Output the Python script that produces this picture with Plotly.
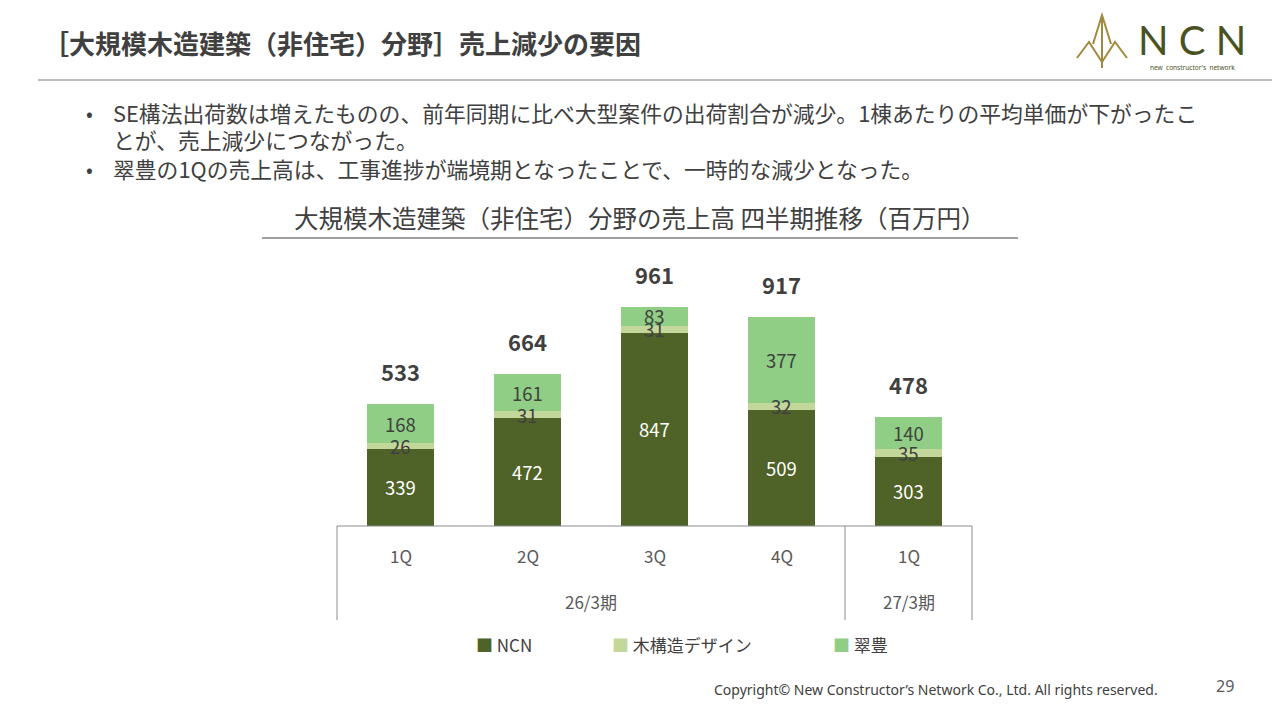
import plotly.graph_objects as go

# data (百万円)
quarters = ["1Q", "2Q", "3Q", "4Q", "1Q"]
periods = ["26/3期", "27/3期"]
period_span = [4, 1]
ncn = [339, 472, 847, 509, 303]
mokuzo = [26, 31, 31, 32, 35]
suiho = [168, 161, 83, 377, 140]
totals = [533, 664, 961, 917, 478]
series_names = ["NCN", "木構造デザイン", "翠豊"]
colors = ["#4f6228", "#c4d79b", "#8fce84"]

FONT = "Noto Sans CJK JP"
TXT = "#404040"
W, H = 1280, 720
OFF = 8  # default body margin of the html page
# plot area in page pixels
L, R, T, B = 337, 972, 275, 526
YMAX = 1100


def px(x):
    return (x - L) / (R - L)


def py(y):
    return (B - y) / (B - T)


def note(x, y, text, size, color=TXT, family=FONT, xanchor="center", **kw):
    return dict(x=px(x), y=py(y), xref="paper", yref="paper", text=text, showarrow=False,
                xanchor=xanchor, yanchor="middle", font=dict(size=size, color=color, family=family), **kw)


xs = list(range(len(quarters)))

fig = go.Figure()
for name, vals, col in zip(series_names, [ncn, mokuzo, suiho], colors):
    fig.add_trace(go.Bar(x=xs, y=vals, name=name, marker=dict(color=col, line_width=0),
                         width=0.52, showlegend=False, hoverinfo="y+name"))

ann = []
# segment labels
for i in xs:
    base = 0
    for vals, fc in [(ncn, "white"), (mokuzo, TXT), (suiho, TXT)]:
        ann.append(dict(x=i, y=base + vals[i] / 2, xref="x", yref="y", text=str(vals[i]),
                        showarrow=False, yanchor="middle",
                        font=dict(size=18.5, color=fc, family=FONT)))
        base += vals[i]
    ann.append(dict(x=i, y=base, xref="x", yref="y", text="<b>%d</b>" % totals[i],
                    showarrow=False, yanchor="bottom", yshift=15,
                    font=dict(size=22, color=TXT, family=FONT)))

# category axis labels
for i, q in enumerate(quarters):
    ann.append(dict(x=i, y=py(555), xref="x", yref="paper", text=q, showarrow=False, yanchor="middle",
                    font=dict(size=17, color="#595959", family=FONT)))
start = 0
for p, n in zip(periods, period_span):
    ann.append(dict(x=start + (n - 1) / 2, y=py(601), xref="x", yref="paper", text=p,
                    showarrow=False, yanchor="middle", font=dict(size=17, color="#595959", family=FONT)))
    start += n

# legend
for xpos, name, col in [(474, "NCN", colors[0]), (610, "木構造デザイン", colors[1]), (831, "翠豊", colors[2])]:
    ann.append(note(xpos, 644, '<span style="color:%s">■</span> %s' % (col, name), 17, xanchor="left"))

# chart title
ann.append(note(640, 217, "大規模木造建築（非住宅）分野の売上高 四半期推移（百万円）", 24.5))

# slide header and bullets
ann.append(note(41, 43, "<b>［大規模木造建築（非住宅）分野］売上減少の要因</b>", 26, xanchor="left"))
bullets = [
    (113, True, "SE構法出荷数は増えたものの、前年同期に比べ大型案件の出荷割合が減少。1棟あたりの平均単価が下がったこ"),
    (139, False, "とが、売上減少につながった。"),
    (168, True, "翠豊の1Qの売上高は、工事進捗が端境期となったことで、一時的な減少となった。"),
]
for y, dot, t in bullets:
    if dot:
        ann.append(note(84, y, "•", 20, xanchor="left"))
    ann.append(note(111, y, t, 21.8, xanchor="left"))

# logo text
ann.append(note(1192, 40, "N C N", 40, color="#4b5222", family="Lato"))
ann.append(note(1192, 67, "new  constructor's  network", 6.5, color="#4b5222", family="Noto Sans"))

# footer
ann.append(note(1160, 689, "Copyright© New Constructor’s Network Co., Ltd. All rights reserved.", 14,
                family="Noto Sans", xanchor="right"))
ann.append(note(1225, 686, "29", 16, color="#595959", family="Noto Sans"))

line_gray = dict(color="#8c8c8c", width=1)
gold = dict(color="#a08a3c", width=2)
shapes = [
    dict(type="line", xref="paper", yref="paper", x0=0, x1=1, y0=0, y1=0, line=line_gray),
    dict(type="line", xref="paper", yref="paper", x0=0, x1=0, y0=0, y1=py(620), line=line_gray),
    dict(type="line", xref="x", yref="paper", x0=3.5, x1=3.5, y0=0, y1=py(620), line=line_gray),
    dict(type="line", xref="paper", yref="paper", x0=1, x1=1, y0=0, y1=py(620), line=line_gray),
    # title underline
    dict(type="line", xref="paper", yref="paper", x0=px(262), x1=px(1018), y0=py(238), y1=py(238),
         line=dict(color="#404040", width=1.2)),
    # header rule
    dict(type="line", xref="paper", yref="paper", x0=px(38), x1=px(1272), y0=py(80), y1=py(80),
         line=dict(color="#a6a6a6", width=1.5)),
    # logo mark (simplified)
    dict(type="path", xref="paper", yref="paper",
         path="M %f %f L %f %f L %f %f L %f %f L %f %f" % (
             px(1077), py(58), px(1089), py(42), px(1102), py(62), px(1115), py(42), px(1127), py(58)),
         line=gold),
    dict(type="path", xref="paper", yref="paper",
         path="M %f %f L %f %f L %f %f M %f %f L %f %f" % (
             px(1093), py(44), px(1102), py(15), px(1111), py(44), px(1102), py(15), px(1102), py(68)),
         line=gold),
]

fig.update_layout(
    barmode="stack",
    width=W - OFF, height=H - OFF,
    margin=dict(l=L - OFF, r=W - R, t=T - OFF, b=H - B),
    paper_bgcolor="white", plot_bgcolor="white",
    xaxis=dict(range=[-0.5, 4.5], showticklabels=False, showgrid=False, zeroline=False, fixedrange=True),
    yaxis=dict(range=[0, YMAX], visible=False, fixedrange=True),
    annotations=ann,
    shapes=shapes,
    font=dict(family=FONT),
)

fig.write_html("out.html")
